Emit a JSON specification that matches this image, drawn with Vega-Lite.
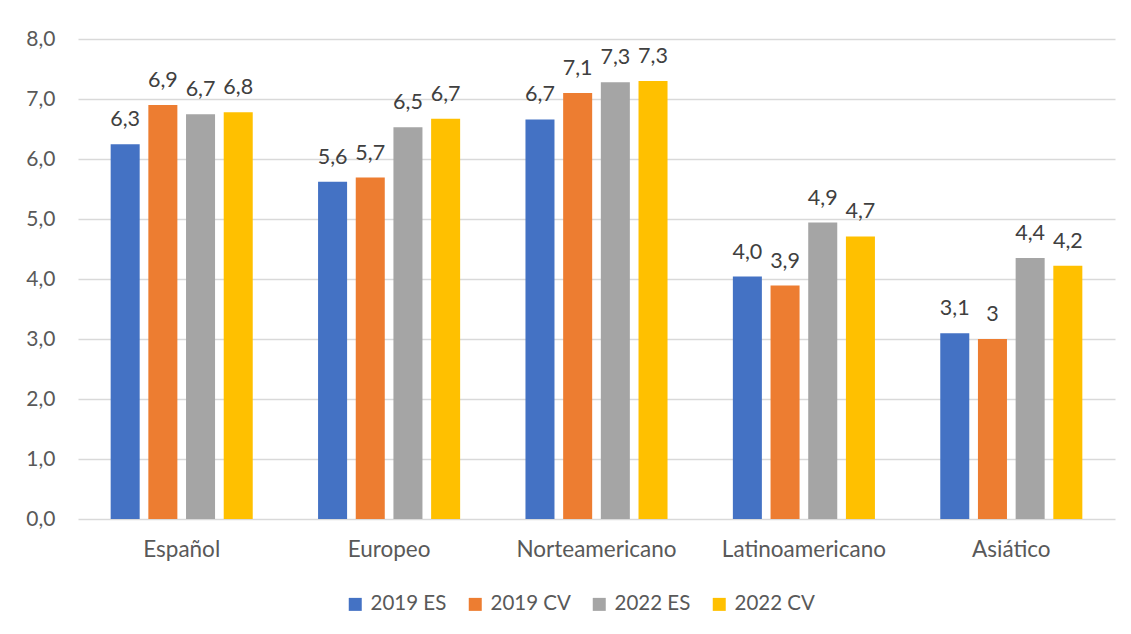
{
  "$schema": "https://vega.github.io/schema/vega-lite/v6.json",
  "width": 1037,
  "height": 480,
  "autosize": {"type": "none"},
  "padding": {"left": 78, "top": 39, "right": 16, "bottom": 115},
  "background": "white",
  "config": {
    "locale": {"number": {"decimal": ",", "thousands": ".", "grouping": [3], "currency": ["", " €"]}},
    "view": {"stroke": null},
    "font": "Lato",
    "axis": {"labelFont": "Lato", "labelColor": "#595959", "labelFontSize": 21}
  },
  "data": {
    "values": [
      {"origen": "Español", "serie": "2019 ES", "valor": 6.245, "etiqueta": "6,3"},
      {"origen": "Español", "serie": "2019 CV", "valor": 6.9, "etiqueta": "6,9"},
      {"origen": "Español", "serie": "2022 ES", "valor": 6.745, "etiqueta": "6,7"},
      {"origen": "Español", "serie": "2022 CV", "valor": 6.78, "etiqueta": "6,8"},
      {"origen": "Europeo", "serie": "2019 ES", "valor": 5.62, "etiqueta": "5,6"},
      {"origen": "Europeo", "serie": "2019 CV", "valor": 5.69, "etiqueta": "5,7"},
      {"origen": "Europeo", "serie": "2022 ES", "valor": 6.53, "etiqueta": "6,5"},
      {"origen": "Europeo", "serie": "2022 CV", "valor": 6.67, "etiqueta": "6,7"},
      {"origen": "Norteamericano", "serie": "2019 ES", "valor": 6.66, "etiqueta": "6,7"},
      {"origen": "Norteamericano", "serie": "2019 CV", "valor": 7.1, "etiqueta": "7,1"},
      {"origen": "Norteamericano", "serie": "2022 ES", "valor": 7.28, "etiqueta": "7,3"},
      {"origen": "Norteamericano", "serie": "2022 CV", "valor": 7.3, "etiqueta": "7,3"},
      {"origen": "Latinoamericano", "serie": "2019 ES", "valor": 4.04, "etiqueta": "4,0"},
      {"origen": "Latinoamericano", "serie": "2019 CV", "valor": 3.89, "etiqueta": "3,9"},
      {"origen": "Latinoamericano", "serie": "2022 ES", "valor": 4.94, "etiqueta": "4,9"},
      {"origen": "Latinoamericano", "serie": "2022 CV", "valor": 4.71, "etiqueta": "4,7"},
      {"origen": "Asiático", "serie": "2019 ES", "valor": 3.095, "etiqueta": "3,1"},
      {"origen": "Asiático", "serie": "2019 CV", "valor": 3.0, "etiqueta": "3"},
      {"origen": "Asiático", "serie": "2022 ES", "valor": 4.35, "etiqueta": "4,4"},
      {"origen": "Asiático", "serie": "2022 CV", "valor": 4.22, "etiqueta": "4,2"}
    ]
  },
  "encoding": {
    "x": {
      "field": "origen", "type": "nominal",
      "sort": ["Español", "Europeo", "Norteamericano", "Latinoamericano", "Asiático"],
      "scale": {"paddingInner": 0.315, "paddingOuter": 0.1575},
      "axis": {"title": null, "labelAngle": 0, "ticks": false, "domain": false, "labelPadding": 19, "grid": false, "labelFontSize": 22.5}
    },
    "xOffset": {
      "field": "serie", "type": "nominal",
      "sort": ["2019 ES", "2019 CV", "2022 ES", "2022 CV"],
      "scale": {"paddingInner": 0.23, "paddingOuter": 0}
    },
    "y": {
      "field": "valor", "type": "quantitative",
      "scale": {"domain": [0, 8], "nice": false, "zero": true},
      "axis": {"title": null, "values": [0, 1, 2, 3, 4, 5, 6, 7, 8], "format": ".1f", "ticks": false, "domain": false, "gridColor": "#d9d9d9", "gridWidth": 1.5, "labelPadding": 23}
    }
  },
  "layer": [
    {
      "mark": {"type": "bar"},
      "encoding": {
        "color": {
          "field": "serie", "type": "nominal",
          "sort": ["2019 ES", "2019 CV", "2022 ES", "2022 CV"],
          "scale": {"domain": ["2019 ES", "2019 CV", "2022 ES", "2022 CV"], "range": ["#4472c4", "#ed7d31", "#a5a5a5", "#ffc000"]},
          "legend": {
            "title": null, "orient": "none", "direction": "horizontal",
            "legendX": 267, "legendY": 555,
            "symbolType": "square", "symbolSize": 169, "symbolStrokeWidth": 0,
            "labelFont": "Lato", "labelFontSize": 20.5, "labelColor": "#595959",
            "labelOffset": 5, "columnPadding": 18, "padding": 0
          }
        }
      }
    },
    {
      "mark": {"type": "text", "baseline": "alphabetic", "dy": -18, "font": "Lato", "fontSize": 21.5, "color": "#404040"},
      "encoding": {
        "text": {"field": "etiqueta"}
      }
    }
  ]
}
